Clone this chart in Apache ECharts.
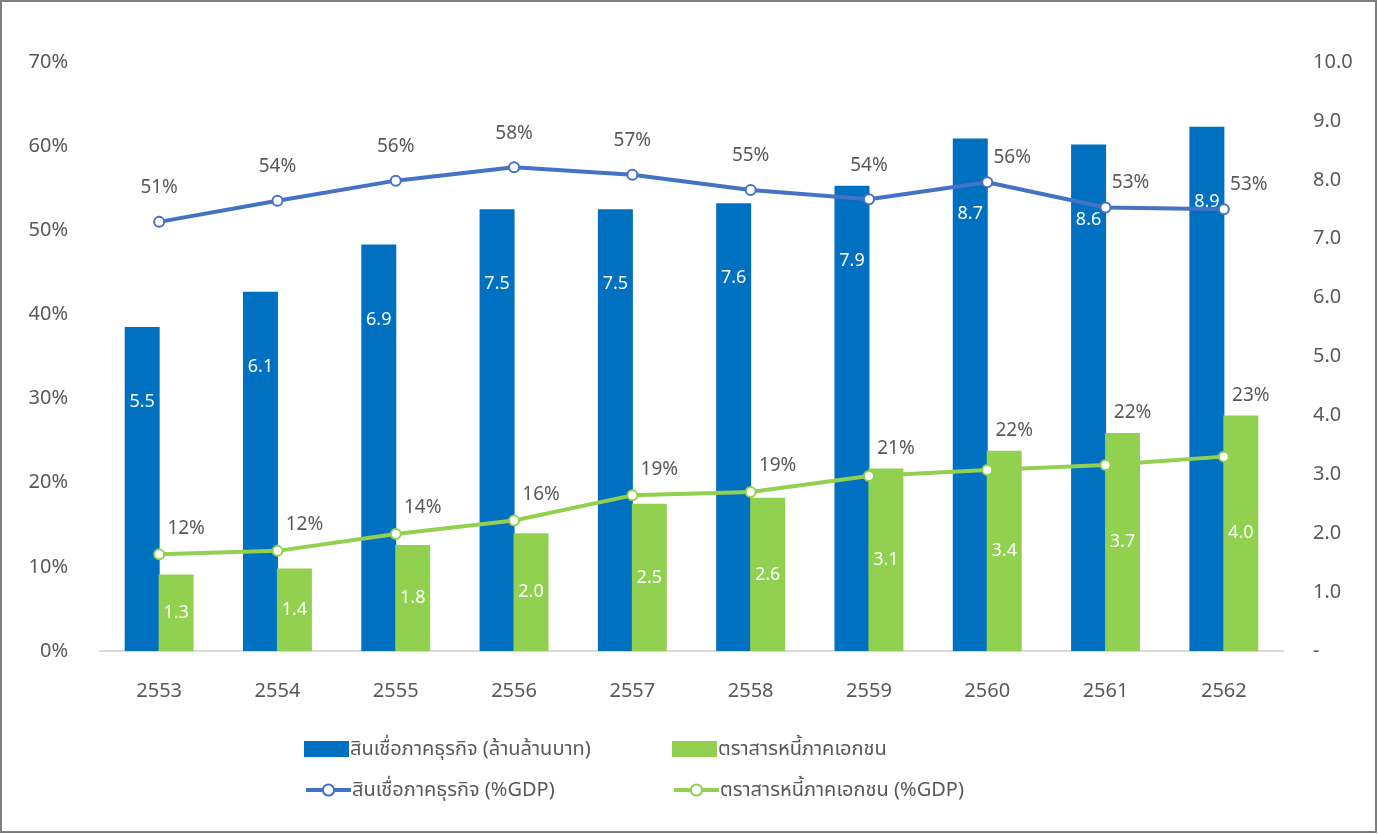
<!DOCTYPE html>
<html>
<head>
<meta charset="utf-8">
<script src="https://cdn.jsdelivr.net/npm/echarts@6/dist/echarts.min.js"></script>
<style>
  html, body { margin: 0; padding: 0; background: #fff; }
  #chart { width: 1378px; height: 834px; }
</style>
</head>
<body>
<div id="chart"></div>
<script>
var years = ['2553', '2554', '2555', '2556', '2557', '2558', '2559', '2560', '2561', '2562'];
// ล้านล้านบาท (แกนขวา)
var loanValue = [5.5, 6.1, 6.9, 7.5, 7.5, 7.6, 7.9, 8.7, 8.6, 8.9];
var bondValue = [1.3, 1.4, 1.8, 2.0, 2.5, 2.6, 3.1, 3.4, 3.7, 4.0];
// %GDP (แกนซ้าย)
var loanGdp = [51.0, 53.5, 55.9, 57.5, 56.6, 54.8, 53.7, 55.7, 52.7, 52.5];
var bondGdp = [11.5, 11.9, 13.9, 15.5, 18.5, 18.9, 20.8, 21.5, 22.1, 23.1];
var names = ['สินเชื่อภาคธุรกิจ (ล้านล้านบาท)', 'ตราสารหนี้ภาคเอกชน', 'สินเชื่อภาคธุรกิจ (%GDP)', 'ตราสารหนี้ภาคเอกชน (%GDP)'];

var font = 'Segoe UI, "Noto Sans", "Noto Sans Thai", Tahoma, sans-serif';
var gray = '#595959';
var blueBar = '#0070c0';
var greenBar = '#92d050';
var blueLine = '#4472c4';

function legendAt(name, left, top, isLine) {
    return {
        data: [{ name: name, icon: isLine ? undefined : 'rect' }],
        left: left,
        top: top,
        itemWidth: 45,
        itemHeight: isLine ? 14 : 16,
        itemGap: 0,
        lineStyle: { width: 4 },
        textStyle: { color: gray, fontSize: 20, fontFamily: font, padding: [0, 0, 0, -4] }
    };
}

var chart = echarts.init(document.getElementById('chart'));

//ป้ายเส้นสีฟ้า: ถ้าชนแท่ง ให้เลื่อนไปทางขวาบน
function loanLabelLayout(p) {
    var i = p.dataIndex;
    var pt = chart.convertToPixel({ seriesIndex: 2 }, [i, loanGdp[i]]);
    var barTop = chart.convertToPixel({ yAxisIndex: 1 }, loanValue[i]);
    if (barTop < pt[1] - 24) {
        return { x: pt[0] + 25, y: pt[1] - 25, align: 'center', verticalAlign: 'middle' };
    }
    return { x: pt[0], y: pt[1] - 34, align: 'center', verticalAlign: 'middle' };
}
//ป้ายเส้นสีเขียว: วางเหนือจุดหรือเหนือแท่งเขียว
function bondLabelLayout(p) {
    var i = p.dataIndex;
    var pt = chart.convertToPixel({ seriesIndex: 3 }, [i, bondGdp[i]]);
    var barTop = chart.convertToPixel({ yAxisIndex: 1 }, bondValue[i]);
    return { x: pt[0] + 27, y: Math.min(pt[1] - 26, barTop - 20), align: 'center', verticalAlign: 'middle' };
}

var option = {
    animation: false,
    textStyle: { fontFamily: font },
    graphic: [{
        type: 'rect',
        shape: { x: 1, y: 1, width: 1375, height: 831 },
        style: { fill: 'none', stroke: '#808080', lineWidth: 2 }
    }],
    legend: [
        legendAt(names[0], 299, 734, false),
        legendAt(names[1], 667, 734, false),
        legendAt(names[2], 299, 775, true),
        legendAt(names[3], 667, 775, true)
    ],
    grid: { left: 100, right: 95, top: 62, bottom: 183 },
    xAxis: {
        type: 'category',
        data: years,
        axisLine: { lineStyle: { color: '#d9d9d9', width: 2 } },
        axisTick: { show: false },
        axisLabel: { color: gray, fontSize: 20, margin: 30 }
    },
    yAxis: [{
        type: 'value',
        min: 0, max: 70, interval: 10,
        axisLine: { show: false },
        axisTick: { show: false },
        splitLine: { show: false },
        axisLabel: { color: gray, fontSize: 20, margin: 32, formatter: '{value}%' }
    }, {
        type: 'value',
        min: 0, max: 10, interval: 1,
        axisLine: { show: false },
        axisTick: { show: false },
        splitLine: { show: false },
        axisLabel: {
            color: gray, fontSize: 20, margin: 30,
            formatter: function(v) { return v === 0 ? '-' : v.toFixed(1); }
        }
    }],
    series: [{
        name: names[0],
        type: 'bar',
        yAxisIndex: 1,
        barWidth: 35,
        barGap: '-3%',
        itemStyle: { color: blueBar },
        label: {
            show: true, position: 'insideTop', distance: 66,
            color: '#fff', fontSize: 18,
            formatter: function(p) { return p.value.toFixed(1); }
        },
        data: loanValue
    }, {
        name: names[1],
        type: 'bar',
        yAxisIndex: 1,
        barWidth: 35,
        itemStyle: { color: greenBar },
        label: {
            show: true, position: 'inside',
            color: '#fff', fontSize: 18,
            formatter: function(p) { return p.value.toFixed(1); }
        },
        data: bondValue
    }, {
        name: names[2],
        type: 'line',
        yAxisIndex: 0,
        symbol: 'circle',
        symbolSize: 10,
        lineStyle: { color: blueLine, width: 4 },
        itemStyle: { color: '#fff', borderColor: blueLine, borderWidth: 2 },
        label: {
            show: true, color: gray, fontSize: 19,
            formatter: function(p) { return Math.round(p.value) + '%'; }
        },
        labelLayout: loanLabelLayout,
        data: loanGdp
    }, {
        name: names[3],
        type: 'line',
        yAxisIndex: 0,
        symbol: 'circle',
        symbolSize: 10,
        lineStyle: { color: greenBar, width: 4 },
        itemStyle: { color: '#fff', borderColor: greenBar, borderWidth: 2 },
        label: {
            show: true, color: gray, fontSize: 19,
            formatter: function(p) { return Math.round(p.value) + '%'; }
        },
        labelLayout: bondLabelLayout,
        data: bondGdp
    }]
};

chart.setOption(option);
window.onresize = function() {
    chart.resize();
};
</script>
</body>
</html>
